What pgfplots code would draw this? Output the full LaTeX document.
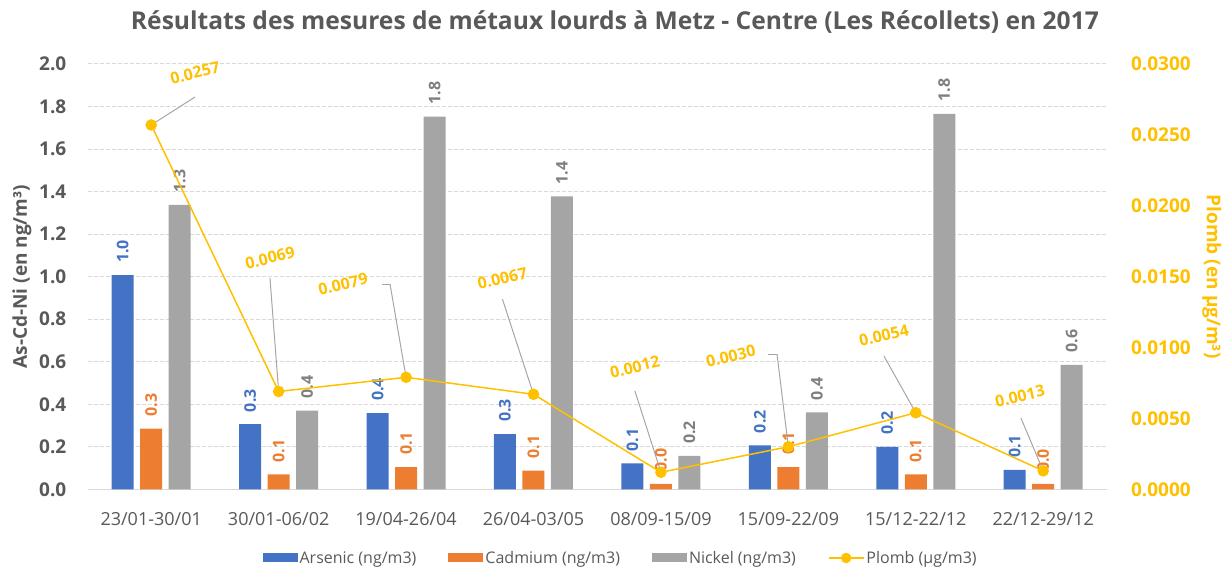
\documentclass[border=0pt]{standalone}
\usepackage{fontspec}
\setmainfont{Open Sans}
\usepackage{pgfplots}
\usepackage{pgfplotstable}
\pgfplotsset{compat=1.18}
\definecolor{cAs}{HTML}{4472C4}
\definecolor{cCd}{HTML}{ED7D31}
\definecolor{cNi}{HTML}{A5A5A5}
\definecolor{cNiT}{HTML}{7F7F7F}
\definecolor{cPb}{HTML}{FFC000}
\definecolor{cTxt}{HTML}{595959}
\definecolor{cGrid}{HTML}{D9D9D9}
\definecolor{cLead}{HTML}{A6A6A6}

\pgfplotstableread{
x As Cd Ni
0 1.007 0.285 1.338
1 0.306 0.070 0.370
2 0.358 0.104 1.753
3 0.260 0.088 1.377
4 0.122 0.026 0.157
5 0.207 0.104 0.362
6 0.200 0.070 1.766
7 0.091 0.025 0.585
}\metaux

\pgfplotstableread{
x Pb
0 0.0257
1 0.0069
2 0.0079
3 0.0067
4 0.0012
5 0.0030
6 0.0054
7 0.0013
}\plomb

\pgfplotstableread{
x y u v
0 0.0257 0.344 0.00197
1 0.0069 -0.068 0.0080
2 0.0079 -0.126 0.00658
1.874 0.01448 -0.063 0
3 0.0067 -0.244 0.00672
4 0.0012 -0.204 0.00573
5 0.0030 -0.089 0.00654
4.911 0.00954 -0.071 0
6 0.0054 -0.25 0.0040
7 0.0013 -0.175 0.00373
}\leaders

\pgfplotstableread{
x y lab
0.344 0.02937 0.0257
0.932 0.01632 0.0069
1.505 0.01448 0.0079
2.756 0.0149 0.0067
3.796 0.00863 0.0012
4.549 0.0094 0.0030
5.75 0.01088 0.0054
6.817 0.00658 0.0013
}\pblabels

\pgfplotsset{
  base/.style={at={(87.5pt,79.7pt)}, anchor=south west, scale only axis,
    width=1019.5pt, height=425.3pt, xmin=-0.5, xmax=7.5, clip=false,
    /pgf/number format/assume math mode=true, major tick length=0pt},
  barleg/.style={legend image code/.code={\fill[##1] (0pt,-4.5pt) rectangle (35pt,4.5pt);}},
  barlab/.style n args={2}{nodes near coords={\pgfmathprintnumber[fixed,fixed zerofill,precision=1]{\pgfplotspointmeta}},
    point meta=y,
    every node near coord/.append style={xshift=#2, rotate=90, anchor=west, inner xsep=12pt, inner ysep=0pt,
      font=\bfseries\fontsize{16}{18}\selectfont, text=#1}},
}

\begin{document}
\begin{tikzpicture}
\useasboundingbox (0,0) rectangle (1222pt,569pt);
\begin{axis}[base,
  ymin=0, ymax=2,
  xtick={0,1,2,3,4,5,6,7},
  xticklabels={23/01-30/01,30/01-06/02,19/04-26/04,26/04-03/05,08/09-15/09,15/09-22/09,15/12-22/12,22/12-29/12},
  xticklabel style={font=\fontsize{18}{20}\selectfont, text=cTxt, inner sep=0pt, anchor=north, yshift=-23pt},
  ytick={0,0.2,0.4,0.6,0.8,1.0,1.2,1.4,1.6,1.8,2.0},
  yticklabel style={font=\bfseries\fontsize{19}{22}\selectfont, text=cTxt, inner sep=0pt, anchor=east, xshift=-21pt,
    /pgf/number format/.cd, fixed, fixed zerofill, precision=1},
  ymajorgrids, grid style={cGrid, dash pattern=on 4pt off 2pt, line width=1pt},
  axis x line*=bottom, axis y line*=left,
  x axis line style={cGrid, line width=1.2pt},
  y axis line style={draw=none},
  ylabel={As-Cd-Ni (en ng/m³)},
  ylabel style={at={(-0.0642,0.5)}, anchor=center, font=\bfseries\fontsize{19}{22}\selectfont, text=cTxt},
  title={Résultats des mesures de métaux lourds à Metz - Centre (Les Récollets) en 2017},
  title style={at={(0.5174,1.0846)}, anchor=center, font=\bfseries\fontsize{24.6}{28}\selectfont, text=cTxt},
  legend columns=4,
  legend style={at={(0.523,-0.1615)}, anchor=center, draw=none, fill=none,
    font=\fontsize{16}{18}\selectfont, text=cTxt,
    /tikz/every even column/.append style={column sep=30pt}},
]
\addplot[ybar, bar width=22pt, bar shift=-28.5pt, fill=cAs, draw=none, barleg, barlab={cAs}{-28.5pt}] table[x=x, y=As] {\metaux};
\addlegendentry{Arsenic (ng/m3)}
\addplot[ybar, bar width=22pt, bar shift=0pt, fill=cCd, draw=none, barleg, barlab={cCd}{0pt}] table[x=x, y=Cd] {\metaux};
\addlegendentry{Cadmium (ng/m3)}
\addplot[ybar, bar width=22pt, bar shift=28.5pt, fill=cNi, draw=none, barleg, barlab={cNiT}{28.5pt}] table[x=x, y=Ni] {\metaux};
\addlegendentry{Nickel (ng/m3)}
\addlegendimage{legend image code/.code={\draw[cPb, line width=1.5pt] (0pt,0pt) -- (35pt,0pt); \fill[cPb] (17.5pt,0pt) circle (5pt);}}
\addlegendentry{Plomb (µg/m3)}
\end{axis}

\begin{axis}[base,
  ymin=0, ymax=0.03,
  axis x line=none, axis y line*=right, y axis line style={draw=none},
  scaled y ticks=false,
  ytick={0,0.005,0.01,0.015,0.02,0.025,0.03},
  yticklabel style={font=\bfseries\fontsize{19}{22}\selectfont, text=cPb, inner sep=0pt, anchor=west, xshift=24pt,
    /pgf/number format/.cd, fixed, fixed zerofill, precision=4},
  ylabel={Plomb (en µg/m³)},
  ylabel style={at={(1.103,0.5)}, anchor=center, rotate=180, font=\bfseries\fontsize{19}{22}\selectfont, text=cPb},
]
\addplot[cLead, line width=1pt, quiver={u=\thisrow{u}, v=\thisrow{v}}] table[x=x, y=y] {\leaders};
\addplot[cPb, line width=1.5pt, mark=*, mark size=5pt, mark options={fill=cPb, draw=cPb}] table[x=x, y=Pb] {\plomb};
\addplot[draw=none, mark=none, point meta=explicit symbolic, nodes near coords,
  every node near coord/.append style={anchor=center, rotate=13, inner sep=0pt,
    font=\bfseries\fontsize{16}{18}\selectfont, text=cPb}] table[x=x, y=y, meta=lab] {\pblabels};
\end{axis}
\end{tikzpicture}
\end{document}
